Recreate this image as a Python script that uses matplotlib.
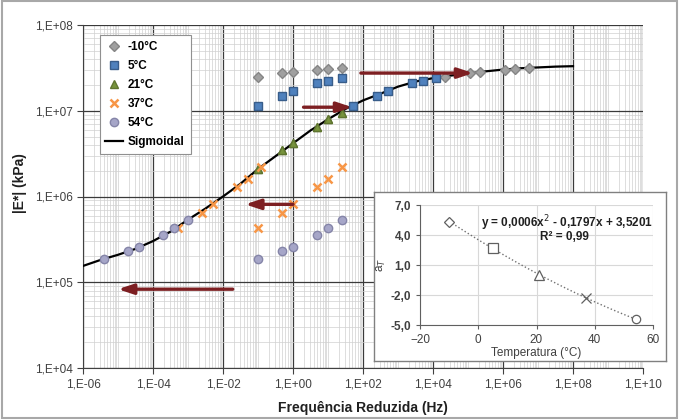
import numpy as np
import matplotlib
matplotlib.use("Agg")
import matplotlib.pyplot as plt
from matplotlib.ticker import LogLocator, NullFormatter, FixedLocator
from matplotlib.patches import Rectangle

plt.rcParams['font.family'] = ['Liberation Sans', 'DejaVu Sans']

# test frequencies (Hz) and measured |E*| (kPa) per temperature
freq = [0.1, 0.5, 1, 5, 10, 25]
temps = [-10, 5, 21, 37, 54]
E_m10 = [2.45e7, 2.75e7, 2.8e7, 3.0e7, 3.1e7, 3.15e7]
E_5 = [1.13e7, 1.5e7, 1.7e7, 2.1e7, 2.2e7, 2.4e7]
E_21 = [2.1e6, 3.5e6, 4.2e6, 6.5e6, 8.0e6, 9.5e6]
E_37 = [4.3e5, 6.5e5, 8.2e5, 1.3e6, 1.6e6, 2.2e6]
E_54 = [1.85e5, 2.3e5, 2.6e5, 3.55e5, 4.3e5, 5.3e5]

# shift factors (log aT)
log_aT = [5.35, 2.7, 0.0, -2.3, -4.4]

# master curve
sig_f = np.logspace(-6, 8, 29)
sig_E = [1.55e5, 1.82e5, 2.09e5, 2.45e5, 3.02e5, 3.89e5, 5.37e5, 7.24e5,
         1.0e6, 1.41e6, 2.09e6, 2.95e6, 4.17e6, 5.89e6, 7.94e6, 1.05e7,
         1.32e7, 1.58e7, 1.91e7, 2.19e7, 2.40e7, 2.57e7, 2.72e7, 2.88e7,
         3.02e7, 3.13e7, 3.20e7, 3.27e7, 3.31e7]

labels = ['-10°C', '5°C', '21°C', '37°C', '54°C']
styles = [
    dict(marker='D', ms=4.8, mfc='#a0a0a0', mec='#858585'),
    dict(marker='s', ms=6, mfc='#4f81bd', mec='#385d8a'),
    dict(marker='^', ms=6, mfc='#77933c', mec='#5f7530'),
    dict(marker='x', ms=5.5, mfc='#f79646', mec='#f79646', mew=1.8),
    dict(marker='o', ms=6, mfc='#a6a6c8', mec='#8585a8'),
]
series = [E_m10, E_5, E_21, E_37, E_54]

fig = plt.figure(figsize=(6.8, 4.2), dpi=100)
fig.patches.append(Rectangle((0.003, 0.004), 0.993, 0.993, transform=fig.transFigure,
                             fill=False, edgecolor='#a8a8a8', lw=1.5))

ax = fig.add_axes([83/680, 1-368/420, 560/680, 343/420])
ax.set_xscale('log')
ax.set_yscale('log')
ax.set_xlim(1e-6, 1e10)
ax.set_ylim(1e4, 1e8)

xmaj = [10.0**e for e in range(-6, 11, 2)]
ax.xaxis.set_major_locator(FixedLocator(xmaj))
ax.set_xticklabels([f"1,E{e:+03d}" for e in range(-6, 11, 2)])
ax.xaxis.set_minor_locator(LogLocator(base=10, subs=np.arange(1, 10), numticks=100))
ax.xaxis.set_minor_formatter(NullFormatter())
ymaj = [10.0**e for e in range(4, 9)]
ax.yaxis.set_major_locator(FixedLocator(ymaj))
ax.set_yticklabels([f"1,E{e:+03d}" for e in range(4, 9)])
ax.yaxis.set_minor_locator(LogLocator(base=10, subs=np.arange(2, 10), numticks=100))
ax.yaxis.set_minor_formatter(NullFormatter())

ax.grid(which='minor', color='#d0d0d0', lw=0.5)
ax.grid(which='major', color='#3a3a3a', lw=0.9)
ax.tick_params(which='minor', length=0)
ax.tick_params(which='major', length=4, color='#404040', labelsize=8.5,
               labelcolor='#404040', direction='out')
for s in ['top', 'right']:
    ax.spines[s].set_visible(False)
for s in ['left', 'bottom']:
    ax.spines[s].set_color('#404040')

handles = []
for E, st, lab, a in zip(series, styles, labels, log_aT):
    f_shift = [f * 10**a for f in freq]
    h, = ax.plot(freq, E, ls='none', label=lab, zorder=4, **st)
    ax.plot(f_shift, E, ls='none', zorder=4, **st)
    handles.append(h)
hs, = ax.plot(sig_f, sig_E, color='black', lw=1.6, label='Sigmoidal', zorder=3)
handles.append(hs)

# shift arrows
arrow_col = '#7d1f22'
arrows = [((0.019, 8.3e4), (1e-5, 8.3e4)),
          ((1.0, 8.1e5), (0.043, 8.1e5)),
          ((2.0, 1.1e7), (49, 1.1e7)),
          ((87, 2.75e7), (1.4e5, 2.75e7))]
for tail, head in arrows:
    ax.annotate('', xy=head, xytext=tail,
                arrowprops=dict(arrowstyle='-|>,head_length=0.9,head_width=0.3',
                                color=arrow_col, lw=2.4, shrinkA=0, shrinkB=0),
                zorder=5)

leg = ax.legend(handles=handles, loc='upper left', bbox_to_anchor=(0.019, 0.988),
                fancybox=False, edgecolor='#909090', framealpha=1,
                prop=dict(weight='bold', size=8.5), handlelength=1.5,
                handletextpad=0.4, labelspacing=0.6, borderpad=0.5)
leg.get_frame().set_linewidth(0.8)
leg.set_zorder(6)

fig.text(363/680, 1-408/420, 'Frequência Reduzida (Hz)', ha='center', va='center',
         fontsize=10, fontweight='bold', color='#202020')
fig.text(20/680, 1-183/420, '|E*| (kPa)', ha='center', va='center', rotation=90,
         fontsize=10, fontweight='bold', color='#202020')

# inset box
box = fig.add_axes([374/680, 1-361/420, 292/680, 169/420])
box.set_xticks([])
box.set_yticks([])
box.set_facecolor('white')
for s in box.spines.values():
    s.set_color('#808080')
    s.set_linewidth(1)
box.set_zorder(7)

ins = fig.add_axes([420/680, 1-325/420, 233/680, 120/420])
ins.set_zorder(8)
ins.set_xlim(-20, 60)
ins.set_ylim(-5, 7)
ins.set_xticks([-20, 0, 20, 40, 60])
ins.set_yticks([-5, -2, 1, 4, 7])
ins.grid(color='#d8d8d8', lw=0.8)
ins.tick_params(labelsize=8.5, labelcolor='#404040', length=3, color='#606060')
ins.set_yticklabels(['-5,0', '-2,0', '1,0', '4,0', '7,0'], fontweight='bold')
for s in ['top', 'right']:
    ins.spines[s].set_visible(False)
for s in ['left', 'bottom']:
    ins.spines[s].set_color('#606060')

coef = np.polyfit(temps, log_aT, 2)
tt = np.linspace(-10, 54, 60)
ins.plot(tt, np.polyval(coef, tt), ls=':', color='#707070', lw=1)
ins_marks = ['D', 's', '^', 'x', 'o']
ins_sizes = [5, 7, 7, 7, 6]
for t, a, m, s in zip(temps, log_aT, ins_marks, ins_sizes):
    ins.plot([t], [a], marker=m, ms=s, mfc='white', mec='#606060', mew=0.9, ls='none')

ins.text(0.63, 0.85, 'y = 0,0006x$^2$ - 0,1797x + 3,5201', transform=ins.transAxes,
         ha='center', va='center', fontsize=8.5, fontweight='bold', color='#202020')
ins.text(0.62, 0.73, 'R² = 0,99', transform=ins.transAxes,
         ha='center', va='center', fontsize=8.5, fontweight='bold', color='#202020')
ins.set_xlabel('Temperatura (°C)', fontsize=8.5, color='#404040', labelpad=1)
ins.set_ylabel('a$_T$', fontsize=8.5, color='#404040', labelpad=2)

fig.savefig('out.png', dpi=100)
